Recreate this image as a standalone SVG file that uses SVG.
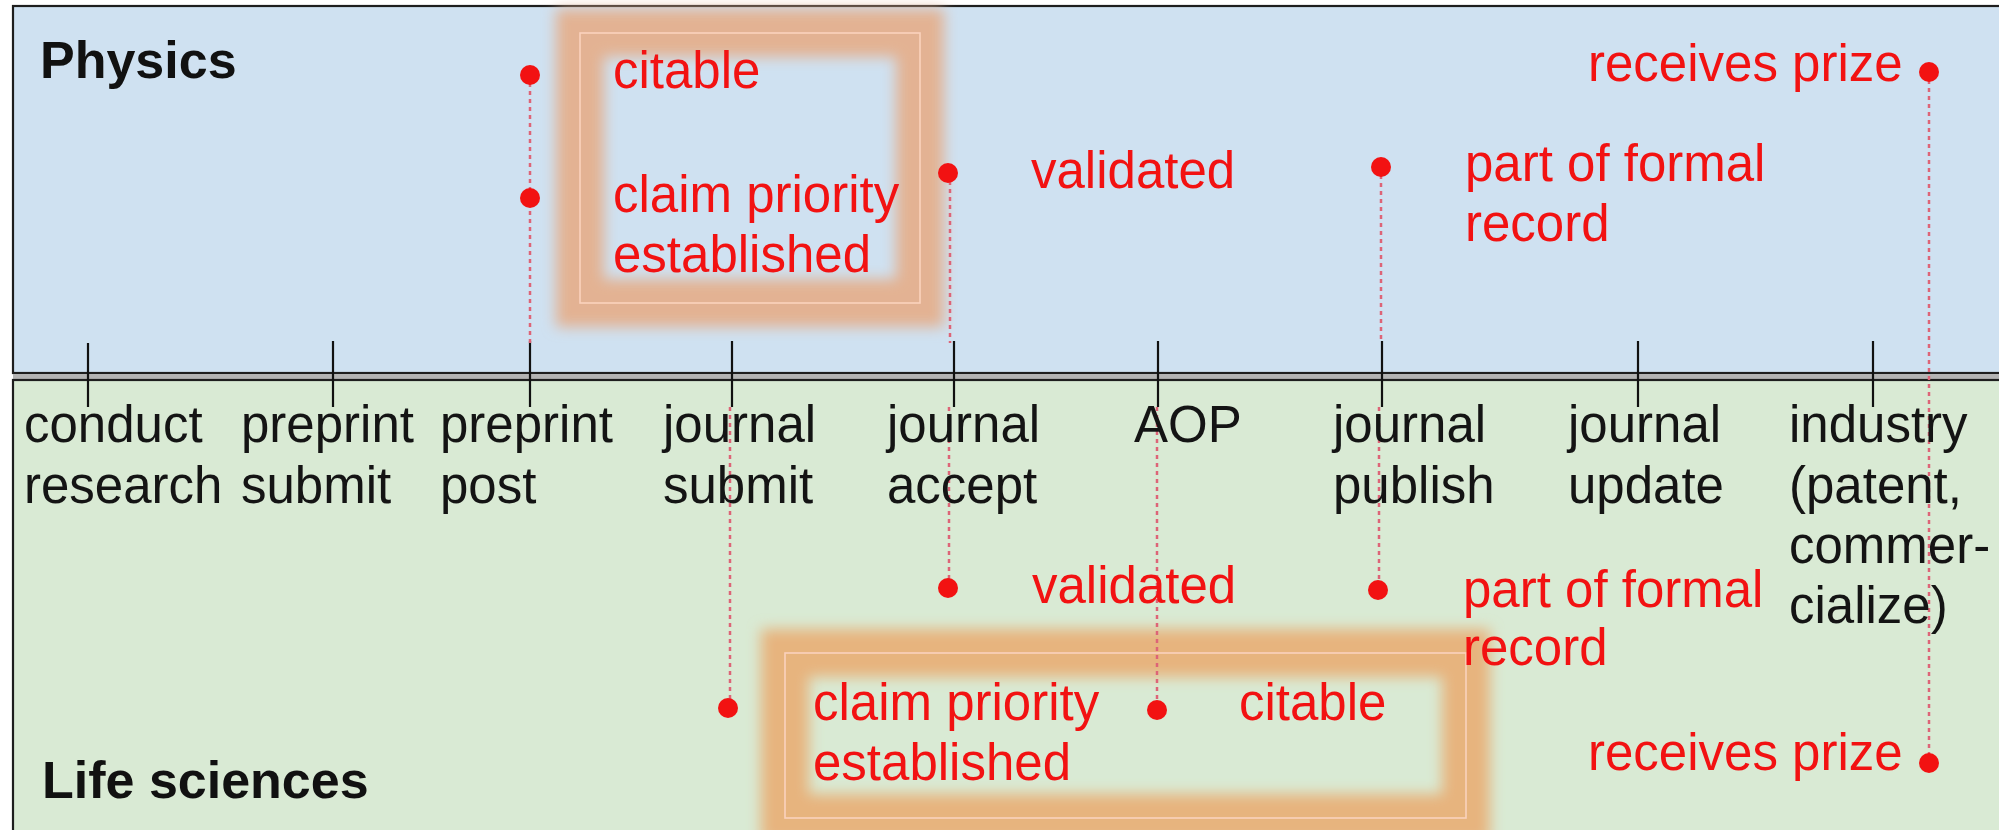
<svg xmlns="http://www.w3.org/2000/svg" width="1999" height="830" viewBox="0 0 1999 830">
<style>
  .lbl { font-family: "Liberation Sans", Arial, sans-serif; font-size: 51px; fill: #141414; }
  .ttl { font-family: "Liberation Sans", Arial, sans-serif; font-size: 52px; font-weight: bold; fill: #111; }
  .red { font-family: "Liberation Sans", Arial, sans-serif; font-size: 51px; fill: #f21212; }
  .tick { stroke: #111; stroke-width: 2.2; }
  .dot { fill: #f21212; }
  .dash { stroke: #dd6477; stroke-width: 2.5; stroke-dasharray: 4 4; fill: none; }
  .thin { fill: none; stroke: #fbd2bd; stroke-width: 1.6; }
</style>
<defs>
  <filter id="glow" x="-20%" y="-40%" width="140%" height="180%">
    <feGaussianBlur stdDeviation="7"/>
  </filter>
</defs>
<rect width="1999" height="830" fill="#ffffff"/>
<g id="panels">
  <rect id="physics-panel" x="13" y="6" width="2010" height="367" fill="#cfe1f1" stroke="#1e1e1e" stroke-width="2.2"/>
  <rect x="13" y="374" width="2010" height="5" fill="#b4b4b4"/>
  <rect id="life-panel" x="13" y="380" width="2010" height="470" fill="#d9ead4" stroke="#1e1e1e" stroke-width="2.2"/>
</g>
<g id="highlight-physics">
  <rect x="580" y="33" width="340" height="270" fill="none" stroke="#e3b293" stroke-width="48" filter="url(#glow)"/>
  <rect class="thin" x="580" y="33" width="340" height="270"/>
</g>
<g id="highlight-life">
  <rect x="785" y="653" width="681" height="165" fill="none" stroke="#e7b47e" stroke-width="48" filter="url(#glow)"/>
  <rect class="thin" x="785" y="653" width="681" height="165"/>
</g>
<g id="connectors">
  <line class="tick" x1="88" y1="343" x2="88" y2="407"/>
  <line class="tick" x1="333" y1="341" x2="333" y2="407"/>
  <line class="tick" x1="530" y1="341" x2="530" y2="407"/>
  <line class="tick" x1="732" y1="341" x2="732" y2="407"/>
  <line class="tick" x1="954" y1="341" x2="954" y2="407"/>
  <line class="tick" x1="1158" y1="341" x2="1158" y2="407"/>
  <line class="tick" x1="1382" y1="341" x2="1382" y2="407"/>
  <line class="tick" x1="1638" y1="341" x2="1638" y2="407"/>
  <line class="tick" x1="1873" y1="341" x2="1873" y2="407"/>
  <line class="dash" x1="530" y1="75" x2="530" y2="343"/>
  <line class="dash" x1="950" y1="173" x2="950" y2="343"/>
  <line class="dash" x1="1381" y1="167" x2="1381" y2="343"/>
  <line class="dash" x1="1929" y1="72" x2="1929" y2="763"/>
  <line class="dash" x1="949" y1="407" x2="949" y2="588"/>
  <line class="dash" x1="1379" y1="407" x2="1379" y2="590"/>
  <line class="dash" x1="730" y1="407" x2="730" y2="708"/>
  <line class="dash" x1="1157" y1="407" x2="1157" y2="710"/>
</g>
<g id="dots">
  <circle class="dot" cx="530" cy="75" r="10"/>
  <circle class="dot" cx="530" cy="198" r="10"/>
  <circle class="dot" cx="948" cy="173" r="10"/>
  <circle class="dot" cx="1381" cy="167" r="10"/>
  <circle class="dot" cx="1929" cy="72" r="10"/>
  <circle class="dot" cx="948" cy="588" r="10"/>
  <circle class="dot" cx="1378" cy="590" r="10"/>
  <circle class="dot" cx="728" cy="708" r="10"/>
  <circle class="dot" cx="1157" cy="710" r="10"/>
  <circle class="dot" cx="1929" cy="763" r="10"/>
</g>
<g id="titles">
  <text class="ttl" x="40" y="78">Physics</text>
  <text class="ttl" x="42" y="798">Life sciences</text>
</g>
<g id="stage-conduct"><text class="lbl" x="24" y="442">conduct</text><text class="lbl" x="24" y="503">research</text></g>
<g id="stage-preprint-submit"><text class="lbl" x="241" y="442">preprint</text><text class="lbl" x="241" y="503">submit</text></g>
<g id="stage-preprint-post"><text class="lbl" x="440" y="442">preprint</text><text class="lbl" x="440" y="503">post</text></g>
<g id="stage-journal-submit"><text class="lbl" x="663" y="442">journal</text><text class="lbl" x="663" y="503">submit</text></g>
<g id="stage-journal-accept"><text class="lbl" x="887" y="442">journal</text><text class="lbl" x="887" y="503">accept</text></g>
<g id="stage-aop"><text class="lbl" x="1134" y="442">AOP</text></g>
<g id="stage-journal-publish"><text class="lbl" x="1333" y="442">journal</text><text class="lbl" x="1333" y="503">publish</text></g>
<g id="stage-journal-update"><text class="lbl" x="1568" y="442">journal</text><text class="lbl" x="1568" y="503">update</text></g>
<g id="stage-industry"><text class="lbl" x="1789" y="442">industry</text><text class="lbl" x="1789" y="503">(patent,</text><text class="lbl" x="1789" y="563">commer-</text><text class="lbl" x="1789" y="623">cialize)</text></g>
<g id="physics-events">
  <text class="red" x="613" y="88">citable</text>
  <text class="red" x="613" y="212">claim priority</text>
  <text class="red" x="613" y="272">established</text>
  <text class="red" x="1031" y="188">validated</text>
  <text class="red" x="1465" y="181">part of formal</text>
  <text class="red" x="1465" y="241">record</text>
  <text class="red" x="1588" y="81">receives prize</text>
</g>
<g id="life-events">
  <text class="red" x="1032" y="603">validated</text>
  <text class="red" x="1463" y="607">part of formal</text>
  <text class="red" x="1463" y="665">record</text>
  <text class="red" x="813" y="720">claim priority</text>
  <text class="red" x="813" y="780">established</text>
  <text class="red" x="1239" y="720">citable</text>
  <text class="red" x="1588" y="770">receives prize</text>
</g>
</svg>
